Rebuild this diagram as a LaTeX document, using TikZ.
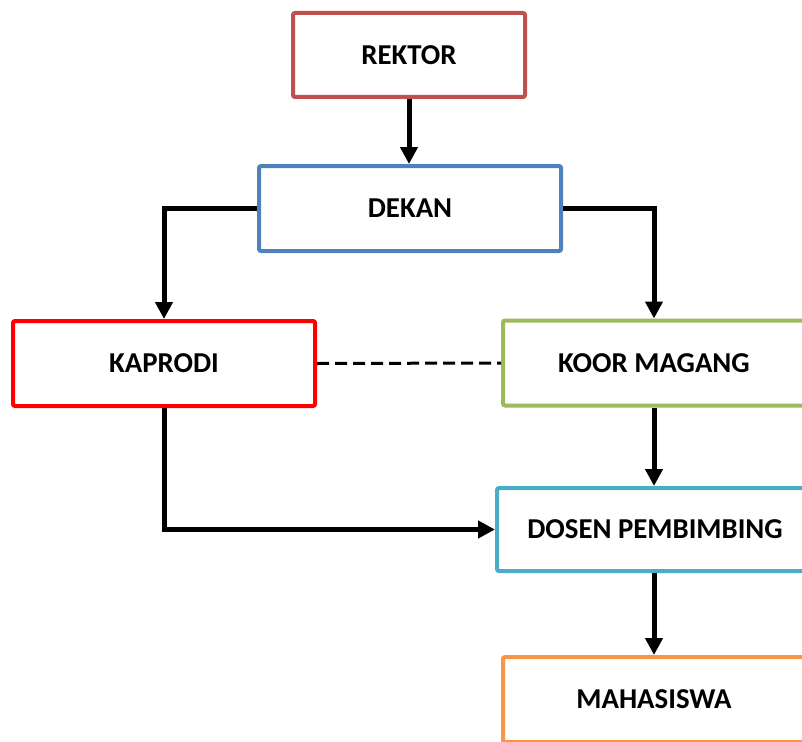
\documentclass[tikz,border=0pt]{standalone}
\usepackage{fontspec}
\setmainfont{Carlito}
\usetikzlibrary{arrows.meta}
\definecolor{cRek}{HTML}{C0504D}
\definecolor{cDek}{HTML}{4F81BD}
\definecolor{cKap}{HTML}{FF0000}
\definecolor{cKoor}{HTML}{9BBB59}
\definecolor{cDos}{HTML}{4BACC6}
\definecolor{cMah}{HTML}{F79646}
\tikzset{
  orgbox/.style={draw=#1, line width=4pt, fill=white, rounded corners=2pt, inner sep=0pt,
    minimum width=302pt, minimum height=85pt, font=\fontsize{28.8}{34}\selectfont\bfseries},
  arr/.style={line width=5pt, -{Triangle[width=17pt,length=17pt]}},
  dashline/.style={line width=3pt, dash pattern=on 12pt off 6pt}
}
\begin{document}
\begin{tikzpicture}[x=1pt,y=-1pt]
\useasboundingbox (0,0) rectangle (802,741);
\node[orgbox=cRek, minimum width=232pt, minimum height=84pt] (rektor) at (409,55) {REKTOR};
\node[orgbox=cDek] (dekan) at (410,208.5) {DEKAN};
\node[orgbox=cKap] (kaprodi) at (164,363.5) {KAPRODI};
\node[orgbox=cKoor] (koor) at (654,363) {KOOR MAGANG};
\node[orgbox=cDos, minimum width=316pt, minimum height=83pt] (dosen) at (655,529.5) {DOSEN PEMBIMBING};
\node[orgbox=cMah] (maha) at (654,699.5) {MAHASISWA};
\draw[arr] (rektor.south) -- (rektor.south |- dekan.north);
\draw[arr] (dekan.west) -| (kaprodi.north);
\draw[arr] (dekan.east) -| (koor.north);
\draw[dashline] (kaprodi.east) -- (koor.west);
\draw[arr] (koor.south) -- (koor.south |- dosen.north);
\draw[arr] (kaprodi.south) |- (dosen.west);
\draw[arr] (dosen.south -| maha.north) -- (maha.north);
\end{tikzpicture}
\end{document}
